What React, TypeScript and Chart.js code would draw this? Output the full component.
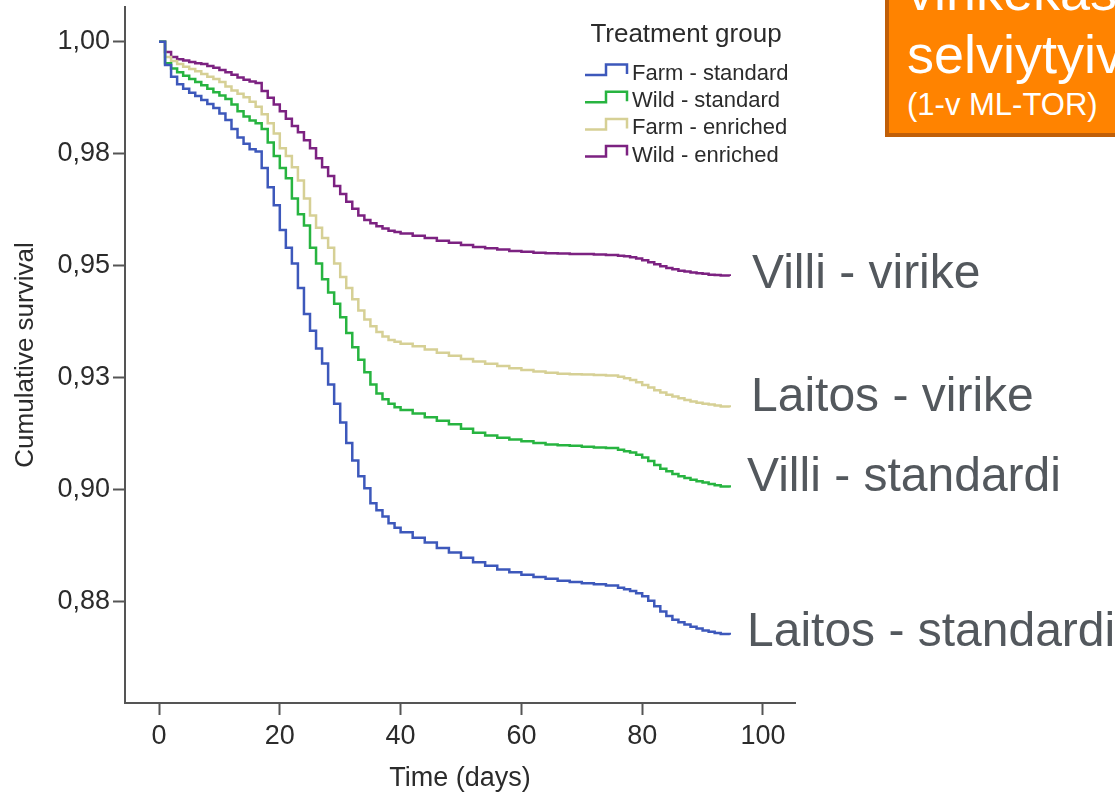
import React, { useEffect, useRef } from 'react';
import { Chart, registerables } from 'chart.js';

Chart.register(...registerables);

// ---------- data ----------
const DAYS = [
  0, 1, 2, 3, 4, 5, 6, 7, 8, 9, 10, 11, 12, 13, 14, 15, 16, 17, 18, 19, 20,
  21, 22, 23, 24, 25, 26, 27, 28, 29, 30, 31, 32, 33, 34, 35, 36, 37, 38, 39, 40,
  42, 44, 46, 48, 50, 52, 54, 56, 58, 60, 62, 64, 66, 68, 70, 72, 74,
  76, 77, 78, 79, 80, 81, 82, 83, 84, 85, 86, 87, 88, 89, 90, 91, 92, 93, 94.5,
];

const FARM_STANDARD = [
  1.0, 0.9948, 0.9922, 0.9905, 0.9895, 0.9886, 0.9879, 0.987, 0.9861, 0.9852, 0.984,
  0.9825, 0.9805, 0.9786, 0.9772, 0.976, 0.9755, 0.9718, 0.9675, 0.9635, 0.958,
  0.954, 0.9505, 0.945, 0.9392, 0.9355, 0.9315, 0.9282, 0.9235, 0.9192, 0.915,
  0.9104, 0.9065, 0.903, 0.9003, 0.897, 0.8954, 0.894, 0.8925, 0.8915, 0.8905,
  0.8893, 0.8882, 0.887, 0.886, 0.8848, 0.8838, 0.883, 0.8822, 0.8816, 0.881,
  0.8805, 0.8801, 0.8797, 0.8794, 0.8791, 0.8789, 0.8786,
  0.8781, 0.8778, 0.8774, 0.8769, 0.8762, 0.8752, 0.874, 0.8728, 0.8718, 0.871,
  0.8704, 0.8699, 0.8694, 0.869, 0.8686, 0.8683, 0.868, 0.8678, 0.8676,
];

const WILD_STANDARD = [
  1.0, 0.9952, 0.994, 0.9932, 0.9924, 0.9917, 0.991, 0.9903, 0.9895, 0.9887, 0.988,
  0.9872, 0.986, 0.9845, 0.9833, 0.9824, 0.9818, 0.9805, 0.9775, 0.9745, 0.9718,
  0.9695, 0.965, 0.9615, 0.959, 0.954, 0.9505, 0.947, 0.944, 0.9415, 0.9385,
  0.935, 0.9318, 0.929, 0.9262, 0.9235, 0.9215, 0.9202, 0.9192, 0.9184, 0.9178,
  0.917, 0.9162, 0.9154, 0.9146, 0.9136, 0.9127, 0.9121, 0.9116, 0.9112, 0.9108,
  0.9104, 0.9101, 0.9099, 0.9098, 0.9096, 0.9094, 0.9093,
  0.9089, 0.9086, 0.9083, 0.9078, 0.9072, 0.9064, 0.9055, 0.9047, 0.9041, 0.9035,
  0.903, 0.9026, 0.9022, 0.9019, 0.9016, 0.9013, 0.901, 0.9007, 0.9005,
];

const FARM_ENRICHED = [
  1.0, 0.9966, 0.9957, 0.995, 0.9944, 0.9939, 0.9934, 0.9928, 0.9922, 0.9917, 0.991,
  0.99, 0.9891, 0.9884, 0.9876, 0.9866, 0.9855, 0.9838, 0.9818, 0.9795, 0.9762,
  0.9745, 0.972, 0.969, 0.965, 0.9612, 0.9585, 0.9562, 0.954, 0.9505, 0.9475,
  0.945, 0.9425, 0.94, 0.938, 0.9365, 0.9352, 0.9342, 0.9334, 0.933, 0.9326,
  0.932, 0.9313, 0.9306, 0.9299, 0.9292, 0.9286, 0.9281, 0.9276, 0.9271, 0.9267,
  0.9264, 0.9261, 0.9259, 0.9258, 0.9257, 0.9256, 0.9255,
  0.9252, 0.9249, 0.9245, 0.924, 0.9234, 0.9228, 0.9222, 0.9217, 0.9212, 0.9208,
  0.9204, 0.92, 0.9197, 0.9194, 0.9192, 0.919, 0.9188, 0.9186, 0.9184,
];

const WILD_ENRICHED = [
  1.0, 0.9977, 0.9966, 0.9961, 0.9958, 0.9955, 0.9952, 0.995, 0.9946, 0.9942, 0.9937,
  0.9932, 0.9926, 0.992, 0.9915, 0.9911, 0.9908, 0.989, 0.9875, 0.986, 0.9845,
  0.9828, 0.9812, 0.9798, 0.978, 0.9762, 0.974, 0.972, 0.97, 0.9678, 0.966,
  0.9643, 0.9627, 0.9612, 0.9602, 0.9595, 0.9588, 0.9583, 0.9578, 0.9575, 0.9572,
  0.9567, 0.9562, 0.9556, 0.9551, 0.9546, 0.9542, 0.9539, 0.9536, 0.9533, 0.9531,
  0.9529, 0.9528, 0.9527, 0.9526, 0.9526, 0.9525, 0.9524,
  0.9522, 0.9521, 0.9519, 0.9516, 0.9512, 0.9508, 0.9503, 0.9499, 0.9495, 0.9492,
  0.9489, 0.9487, 0.9485, 0.9483, 0.9482, 0.948, 0.9479, 0.9478, 0.9477,
];

const SERIES_LABELS = ['Farm - standard', 'Wild - standard', 'Farm - enriched', 'Wild - enriched'];
const SERIES_VALUES = [FARM_STANDARD, WILD_STANDARD, FARM_ENRICHED, WILD_ENRICHED];
const SERIES_COLORS = ['#3d58bb', '#27b440', '#d6d095', '#7c2281'];

const X_TICKS = [0, 20, 40, 60, 80, 100];
const Y_TICKS = [0.875, 0.9, 0.925, 0.95, 0.975, 1.0];
const Y_TICK_LABELS = ['0,88', '0,90', '0,93', '0,95', '0,98', '1,00'];

const X_TITLE = 'Time (days)';
const Y_TITLE = 'Cumulative survival';
const LEGEND_TITLE = 'Treatment group';

const SLIDE_LABELS = ['Villi - virike', 'Laitos - virike', 'Villi - standardi', 'Laitos - standardi'];
const BOX_LINES = ['virikekasvatetut', 'selviytyivät', '(1-v ML-TOR)'];

// ---------- styling ----------
const FONT = "'Liberation Sans', Arial, sans-serif";
const AXIS_COLOR = '#555555';
const TEXT_COLOR = '#2b2b2b';

const legendPlugin = {
  id: 'kmLegend',
  afterDatasetsDraw(chart: any) {
    const ctx = chart.ctx as CanvasRenderingContext2D;
    ctx.save();
    ctx.fillStyle = TEXT_COLOR;
    ctx.font = `26px ${FONT}`;
    ctx.textAlign = 'center';
    ctx.textBaseline = 'alphabetic';
    ctx.fillText(LEGEND_TITLE, 686, 42);
    chart.data.datasets.forEach((ds: any, i: number) => {
      const base = 80 + i * 27.2;
      const yLow = base - 5;
      const yHigh = base - 15.5;
      ctx.strokeStyle = ds.borderColor;
      ctx.lineWidth = 2.5;
      ctx.lineJoin = 'miter';
      ctx.beginPath();
      ctx.moveTo(585, yLow);
      ctx.lineTo(606, yLow);
      ctx.lineTo(606, yHigh);
      ctx.lineTo(627, yHigh);
      ctx.lineTo(627, yLow - 1);
      ctx.stroke();
      ctx.font = `22px ${FONT}`;
      ctx.textAlign = 'left';
      ctx.fillStyle = TEXT_COLOR;
      ctx.fillText(ds.label, 632, base);
    });
    ctx.restore();
  },
};

export default function App() {
  const canvasRef = useRef<HTMLCanvasElement | null>(null);

  useEffect(() => {
    const canvas = canvasRef.current;
    if (!canvas) return;
    const datasets = SERIES_LABELS.map((label, i) => ({
      label,
      data: DAYS.map((d, j) => ({ x: d, y: SERIES_VALUES[i][j] })),
      borderColor: SERIES_COLORS[i],
      backgroundColor: SERIES_COLORS[i],
      borderWidth: 2.5,
      pointRadius: 0,
      stepped: 'before' as const,
      fill: false,
    }));
    const chart = new Chart(canvas, {
      type: 'line',
      data: { datasets },
      options: {
        responsive: false,
        animation: false,
        parsing: false as any,
        layout: { padding: { top: 7, right: 320, left: 0, bottom: 0 } },
        plugins: { legend: { display: false }, tooltip: { enabled: false } },
        scales: {
          x: {
            type: 'linear',
            min: -5.63,
            max: 105.3,
            afterBuildTicks: (s: any) => {
              s.ticks = X_TICKS.map((v) => ({ value: v }));
            },
            afterFit: (s: any) => {
              s.height = 90;
              s.paddingLeft = 0;
              s.paddingRight = 0;
            },
            grid: {
              display: true,
              drawOnChartArea: false,
              drawTicks: true,
              tickLength: 12,
              tickWidth: 2,
              tickColor: AXIS_COLOR,
            },
            border: { display: true, color: AXIS_COLOR, width: 2 },
            ticks: {
              font: { family: FONT, size: 27 },
              color: TEXT_COLOR,
              padding: 5,
              maxRotation: 0,
              autoSkip: false,
            },
            title: {
              display: true,
              text: X_TITLE,
              font: { family: FONT, size: 27 },
              color: TEXT_COLOR,
              padding: { top: 0, bottom: -2 },
            },
          },
          y: {
            type: 'linear',
            min: 0.85239,
            max: 1.00775,
            afterBuildTicks: (s: any) => {
              s.ticks = Y_TICKS.map((v) => ({ value: v }));
            },
            afterFit: (s: any) => {
              s.width = 125;
              s.paddingTop = 0;
              s.paddingBottom = 0;
            },
            grid: {
              display: true,
              drawOnChartArea: false,
              drawTicks: true,
              tickLength: 12,
              tickWidth: 2,
              tickColor: AXIS_COLOR,
            },
            border: { display: true, color: AXIS_COLOR, width: 2 },
            ticks: {
              font: { family: FONT, size: 27 },
              color: TEXT_COLOR,
              padding: 3,
              autoSkip: false,
              callback: (_v: any, index: number) => Y_TICK_LABELS[index],
            },
            title: {
              display: true,
              text: Y_TITLE,
              font: { family: FONT, size: 26 },
              color: TEXT_COLOR,
              padding: { top: 10, bottom: 0 },
            },
          },
        },
      } as any,
      plugins: [legendPlugin],
    });
    return () => chart.destroy();
  }, []);

  const labelStyle = (baseline: number): React.CSSProperties => ({
    position: 'absolute',
    left: 0,
    top: baseline - 0.8465 * 48,
    fontFamily: FONT,
    fontSize: 48,
    lineHeight: 1,
    color: '#53585d',
    whiteSpace: 'nowrap',
  });

  const labelPositions = [
    { left: 752, baseline: 289 },
    { left: 751, baseline: 412 },
    { left: 747, baseline: 492 },
    { left: 747, baseline: 647 },
  ];

  const boxText = (baseline: number, size: number, left: number): React.CSSProperties => ({
    position: 'absolute',
    left,
    top: baseline - 0.8465 * size,
    fontFamily: FONT,
    fontSize: size,
    lineHeight: 1,
    color: '#ffffff',
    whiteSpace: 'nowrap',
  });

  return (
    <div
      style={{
        position: 'fixed',
        left: 0,
        top: 0,
        width: 1115,
        height: 793,
        overflow: 'hidden',
        background: '#ffffff',
      }}
    >
      <canvas
        ref={canvasRef}
        width={1115}
        height={793}
        style={{ position: 'absolute', left: 0, top: 0, width: 1115, height: 793 }}
      />
      {SLIDE_LABELS.map((t, i) => (
        <div key={t} style={{ ...labelStyle(labelPositions[i].baseline), left: labelPositions[i].left }}>
          {t}
        </div>
      ))}
      <div
        style={{
          position: 'absolute',
          left: 885,
          top: -20,
          width: 300,
          height: 157,
          boxSizing: 'border-box',
          background: '#ff8300',
          borderLeft: '4px solid #c05f08',
          borderBottom: '4px solid #c05f08',
        }}
      />
      <div style={boxText(10, 54, 907)}>{BOX_LINES[0]}</div>
      <div style={boxText(73, 54, 907)}>{BOX_LINES[1]}</div>
      <div style={boxText(115, 31, 907)}>{BOX_LINES[2]}</div>
    </div>
  );
}
